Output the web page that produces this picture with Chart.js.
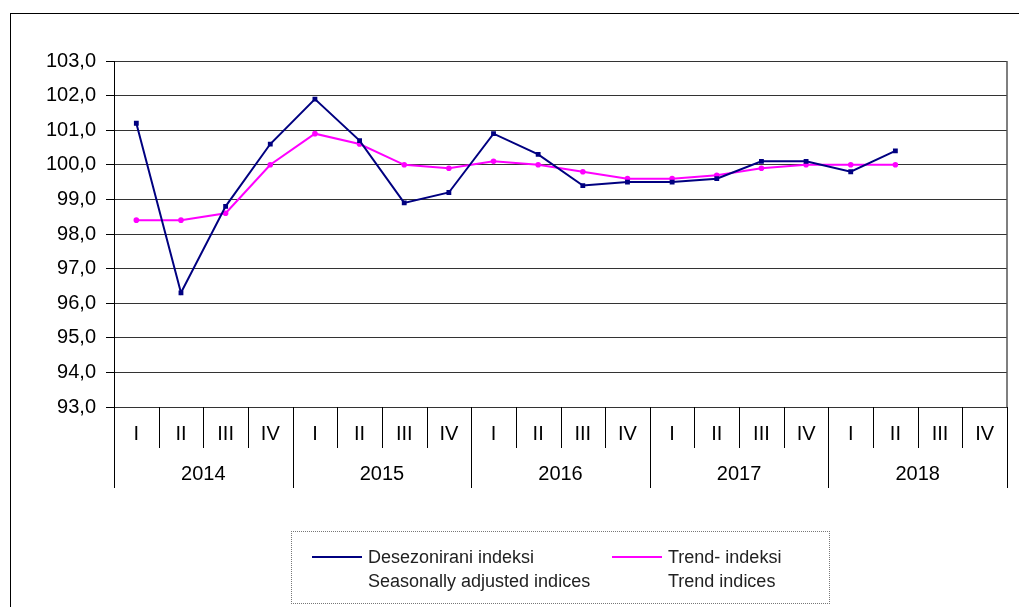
<!DOCTYPE html>
<html>
<head>
<meta charset="utf-8">
<script src="https://cdn.jsdelivr.net/npm/chart.js@4.4.1/dist/chart.umd.min.js"></script>
<style>
  body { margin: 0; background: #fff; font-family: "Liberation Sans", Arial, sans-serif; }
  #okvir { position: absolute; left: 10px; top: 13px; width: 1030px; height: 620px; border: 1.5px solid #000; }
  #graf { position: absolute; left: 0; top: 0; }
  #legenda { position: absolute; left: 291px; top: 531px; width: 537px; height: 71px; border: 1px dotted #777; font-size: 18px; color: #222; }
  .stavka { position: absolute; top: 13px; line-height: 24px; }
  .crta { position: absolute; top: 11px; width: 50px; height: 2px; }
  .tekst { position: absolute; left: 56px; white-space: nowrap; }
</style>
</head>
<body>
<div id="okvir"></div>
<canvas id="graf" width="1019" height="607"></canvas>
<div id="legenda">
  <div class="stavka" style="left:20px"><div class="crta" style="background:#000080"></div><div class="tekst">Desezonirani indeksi<br>Seasonally adjusted indices</div></div>
  <div class="stavka" style="left:320px"><div class="crta" style="background:#ff00ff"></div><div class="tekst">Trend- indeksi<br>Trend indices</div></div>
</div>
<script>
// podaci
const godine = ['2014', '2015', '2016', '2017', '2018'];
const kvartali = ['I', 'II', 'III', 'IV'];
const desezonirani = [101.2, 96.3, 98.8, 100.6, 101.9, 100.7, 98.9, 99.2, 100.9, 100.3, 99.4, 99.5, 99.5, 99.6, 100.1, 100.1, 99.8, 100.4, null, null];
const trend = [98.4, 98.4, 98.6, 100.0, 100.9, 100.6, 100.0, 99.9, 100.1, 100.0, 99.8, 99.6, 99.6, 99.7, 99.9, 100.0, 100.0, 100.0, null, null];

const oznake = [];
godine.forEach(g => kvartali.forEach(k => oznake.push(k + ' ' + g)));

const FONT = '"Liberation Sans", Arial, sans-serif';

// dvorazinska os x (kvartali + godine)
const osKategorija = {
    id: 'osKategorija',
    afterDraw(chart) {
        const ctx = chart.ctx;
        const x = chart.scales.x;
        const a = chart.chartArea;
        const n = oznake.length;
        const sirina = (a.right - a.left) / n;
        ctx.save();
        ctx.strokeStyle = '#000';
        ctx.lineWidth = 1;
        ctx.fillStyle = '#000';
        ctx.font = '20px ' + FONT;
        ctx.textAlign = 'center';
        ctx.textBaseline = 'middle';
        for (let i = 0; i < n; i++) {
            ctx.fillText(kvartali[i % 4], x.getPixelForValue(i), a.bottom + 27);
        }
        for (let i = 0; i <= n; i++) {
            const px = Math.round(a.left + i * sirina) + 0.5;
            const dno = (i % 4 === 0) ? a.bottom + 81 : a.bottom + 41;
            ctx.beginPath();
            ctx.moveTo(px, a.bottom);
            ctx.lineTo(px, dno);
            ctx.stroke();
        }
        godine.forEach((g, j) => {
            ctx.fillText(g, a.left + (j * 4 + 2) * sirina, a.bottom + 67);
        });
        // desni rub
        ctx.strokeStyle = '#555';
        ctx.lineWidth = 1.5;
        ctx.beginPath();
        ctx.moveTo(a.right, a.top);
        ctx.lineTo(a.right, a.bottom);
        ctx.stroke();
        ctx.restore();
    }
};

new Chart(document.getElementById('graf'), {
    type: 'line',
    data: {
        labels: oznake,
        datasets: [{
            label: 'Desezonirani indeksi',
            data: desezonirani,
            borderColor: '#000080',
            backgroundColor: '#000080',
            borderWidth: 2,
            pointRadius: 2,
            pointStyle: 'rect',
            tension: 0
        }, {
            label: 'Trend- indeksi',
            data: trend,
            borderColor: '#ff00ff',
            backgroundColor: '#ff00ff',
            borderWidth: 2,
            pointRadius: 1.8,
            tension: 0
        }]
    },
    options: {
        responsive: false,
        animation: false,
        layout: { padding: { left: 0, top: 61, right: 12, bottom: 200 } },
        plugins: { legend: { display: false }, tooltip: { enabled: false } },
        scales: {
            x: { type: 'category', display: false, offset: true },
            y: {
                min: 93,
                max: 103,
                ticks: {
                    stepSize: 1,
                    color: '#000',
                    padding: 10,
                    font: { family: FONT, size: 20 },
                    callback: v => v.toFixed(1).replace('.', ',')
                },
                grid: { color: '#333', lineWidth: 1, tickLength: 8, tickColor: '#000' },
                border: { color: '#000', width: 1 },
                afterFit: s => { s.width = 114; }
            }
        }
    },
    plugins: [osKategorija]
});
</script>
</body>
</html>
